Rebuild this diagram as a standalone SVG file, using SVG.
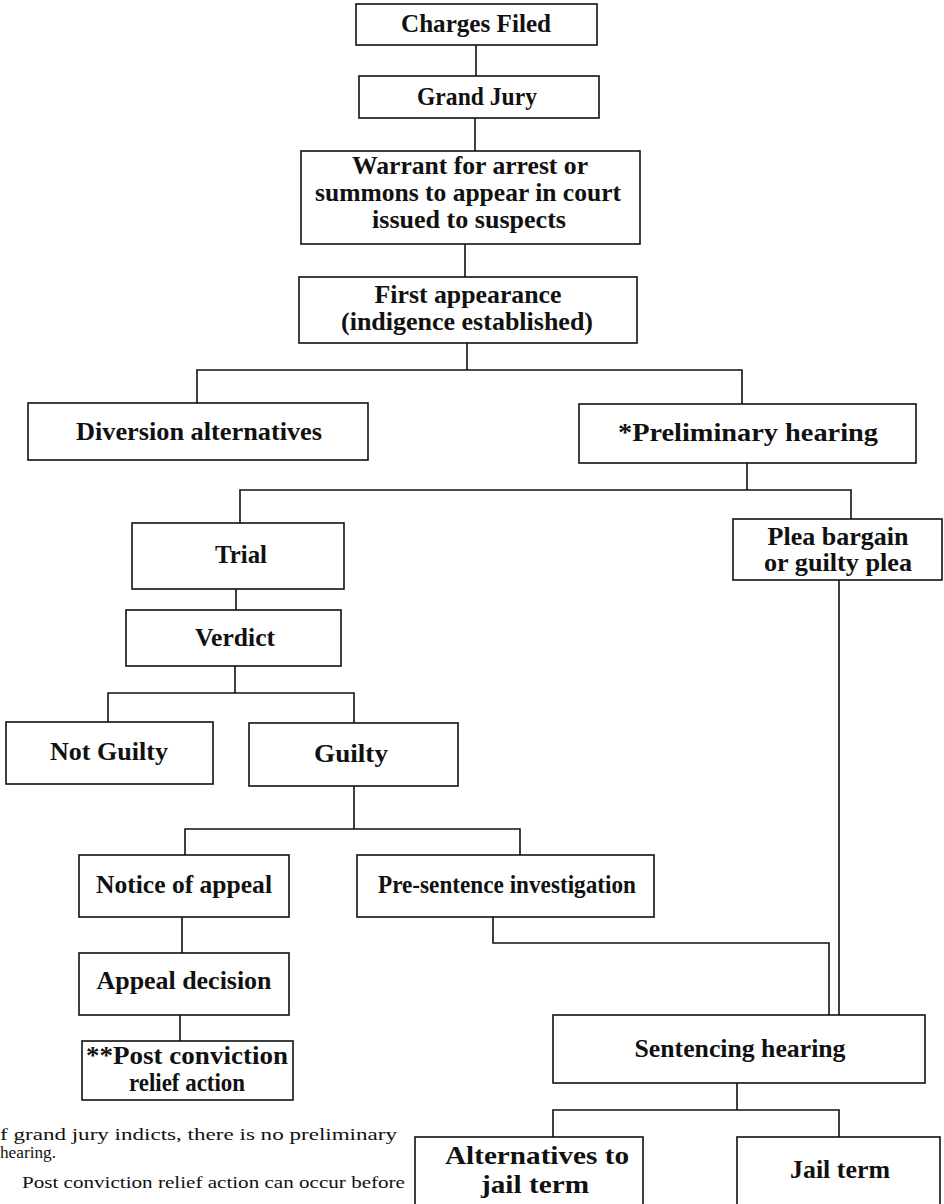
<svg xmlns="http://www.w3.org/2000/svg" width="944" height="1204" viewBox="0 0 944 1204">
<style>
.box{fill:#fff;stroke:#111;stroke-width:1.6}
.lbl{font-family:"Liberation Serif","Times New Roman",serif;font-weight:bold;font-size:25px;fill:#111;text-anchor:middle}
.note{font-family:"Liberation Serif","Times New Roman",serif;font-size:17px;fill:#111}
.con{fill:none;stroke:#111;stroke-width:1.6}
</style>
<rect width="944" height="1204" fill="#fff"/>
<g id="connectors" class="con">
<path d="M476,45V76"/>
<path d="M475,118V151"/>
<path d="M465,244V277"/>
<path d="M467,343V370M197,403V370H742V404"/>
<path d="M747,463V490M240,523V490H851V519"/>
<path d="M236,589V610"/>
<path d="M235,666V693M108,722V693H354V723"/>
<path d="M354,786V829M185,855V829H520V855"/>
<path d="M182,917V953"/>
<path d="M180,1015V1041"/>
<path d="M493,917V943H829V1015"/>
<path d="M839,580V1015"/>
<path d="M737,1083V1110M553,1137V1110H839V1137"/>
</g>
<g id="charges-filed"><rect class="box" x="356" y="4" width="241" height="41"/><text class="lbl" x="476" y="32" textLength="150" lengthAdjust="spacingAndGlyphs">Charges Filed</text></g>
<g id="grand-jury"><rect class="box" x="359" y="76" width="240" height="42"/><text class="lbl" x="477" y="105" textLength="120" lengthAdjust="spacingAndGlyphs">Grand Jury</text></g>
<g id="warrant"><rect class="box" x="301" y="151" width="339" height="93"/>
<text class="lbl" x="470" y="174" textLength="236" lengthAdjust="spacingAndGlyphs">Warrant for arrest or</text>
<text class="lbl" x="468" y="201" textLength="306" lengthAdjust="spacingAndGlyphs">summons to appear in court</text>
<text class="lbl" x="469" y="228" textLength="194" lengthAdjust="spacingAndGlyphs">issued to suspects</text></g>
<g id="first-appearance"><rect class="box" x="299" y="277" width="338" height="66"/>
<text class="lbl" x="468" y="303" textLength="187" lengthAdjust="spacingAndGlyphs">First appearance</text>
<text class="lbl" x="467" y="330" textLength="252" lengthAdjust="spacingAndGlyphs">(indigence established)</text></g>
<g id="diversion"><rect class="box" x="28" y="403" width="340" height="57"/><text class="lbl" x="199" y="440" textLength="246" lengthAdjust="spacingAndGlyphs">Diversion alternatives</text></g>
<g id="preliminary"><rect class="box" x="579" y="404" width="337" height="59"/><text class="lbl" x="748" y="441" textLength="260" lengthAdjust="spacingAndGlyphs">*Preliminary hearing</text></g>
<g id="trial"><rect class="box" x="132" y="523" width="212" height="66"/><text class="lbl" x="241" y="563" textLength="52" lengthAdjust="spacingAndGlyphs">Trial</text></g>
<g id="plea"><rect class="box" x="733" y="519" width="209" height="61"/>
<text class="lbl" x="838" y="545" textLength="141" lengthAdjust="spacingAndGlyphs">Plea bargain</text>
<text class="lbl" x="838" y="571" textLength="148" lengthAdjust="spacingAndGlyphs">or guilty plea</text></g>
<g id="verdict"><rect class="box" x="126" y="610" width="215" height="56"/><text class="lbl" x="235" y="646" textLength="80" lengthAdjust="spacingAndGlyphs">Verdict</text></g>
<g id="not-guilty"><rect class="box" x="6" y="722" width="207" height="62"/><text class="lbl" x="109" y="760" textLength="118" lengthAdjust="spacingAndGlyphs">Not Guilty</text></g>
<g id="guilty"><rect class="box" x="249" y="723" width="209" height="63"/><text class="lbl" x="351" y="762" textLength="74" lengthAdjust="spacingAndGlyphs">Guilty</text></g>
<g id="notice-of-appeal"><rect class="box" x="79" y="855" width="210" height="62"/><text class="lbl" x="184" y="893" textLength="176" lengthAdjust="spacingAndGlyphs">Notice of appeal</text></g>
<g id="pre-sentence"><rect class="box" x="357" y="855" width="297" height="62"/><text class="lbl" x="507" y="893" textLength="258" lengthAdjust="spacingAndGlyphs">Pre-sentence investigation</text></g>
<g id="appeal-decision"><rect class="box" x="79" y="953" width="210" height="62"/><text class="lbl" x="184" y="989" textLength="175" lengthAdjust="spacingAndGlyphs">Appeal decision</text></g>
<g id="post-conviction"><rect class="box" x="82" y="1041" width="211" height="59"/>
<text class="lbl" x="187" y="1064" textLength="202" lengthAdjust="spacingAndGlyphs">**Post conviction</text>
<text class="lbl" x="187" y="1091" textLength="116" lengthAdjust="spacingAndGlyphs">relief action</text></g>
<g id="sentencing"><rect class="box" x="553" y="1015" width="372" height="68"/><text class="lbl" x="740" y="1057" textLength="211" lengthAdjust="spacingAndGlyphs">Sentencing hearing</text></g>
<g id="alternatives"><rect class="box" x="415" y="1137" width="228" height="70"/>
<text class="lbl" x="537" y="1164" textLength="184" lengthAdjust="spacingAndGlyphs">Alternatives to</text>
<text class="lbl" x="535" y="1193" textLength="108" lengthAdjust="spacingAndGlyphs">jail term</text></g>
<g id="jail-term"><rect class="box" x="737" y="1137" width="203" height="70"/><text class="lbl" x="840" y="1178" textLength="100" lengthAdjust="spacingAndGlyphs">Jail term</text></g>
<g id="footnotes">
<text class="note" x="0" y="1140" textLength="397" lengthAdjust="spacingAndGlyphs">f grand jury indicts, there is no preliminary</text>
<text class="note" x="0" y="1158" textLength="56" lengthAdjust="spacingAndGlyphs">hearing.</text>
<text class="note" x="22" y="1188" textLength="383" lengthAdjust="spacingAndGlyphs">Post conviction relief action can occur before</text>
</g>
</svg>
